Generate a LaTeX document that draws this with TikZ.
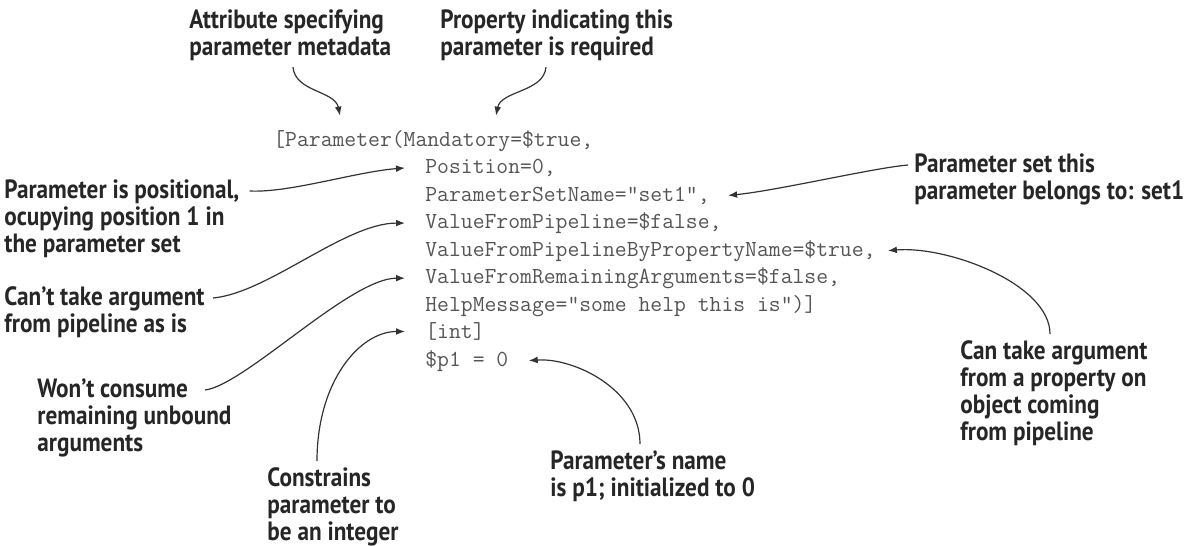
\documentclass[tikz,border=0pt]{standalone}
\usepackage{fontspec}
\newfontfamily\notefont[FakeStretch=0.88]{PT Sans}
\usetikzlibrary{arrows.meta}
\definecolor{notegray}{HTML}{262626}
\definecolor{codegray}{HTML}{555555}
\definecolor{linegray}{HTML}{333333}

\begin{document}
\begin{tikzpicture}[
    x=0.5pt, y=-0.5pt,
    note/.style={
        anchor=north west,
        align=left,
        inner sep=0pt,
        text=notegray,
        font=\notefont\bfseries\fontsize{13.2}{13.6}\selectfont
    },
    code/.style={
        anchor=base west,
        inner sep=3pt,
        text=codegray,
        font=\ttfamily\fontsize{11.5}{13.75}\selectfont
    },
    callout/.style={draw=linegray, line width=0.6pt, -{Latex[length=4.5pt, width=3.4pt]}}
]
\useasboundingbox (0,0) rectangle (1195,546);

% Code listing
\node[code] (mandline) at (267,146) {[Parameter(Mandatory=\$true,};
\node[code] (posline) at (419,173.5) {Position=0,};
\node[code] (setline) at (419,201) {ParameterSetName="set1",};
\node[code] (pipeflag) at (419,228.5) {ValueFromPipeline=\$false,};
\node[code] (bynameline) at (419,256) {ValueFromPipelineByPropertyName=\$true,};
\node[code] (remainline) at (419,283.5) {ValueFromRemainingArguments=\$false,};
\node[code] (helpline) at (419,311) {HelpMessage="some help this is")]};
\node[code] (intline) at (419,338.5) {[int]};
\node[code] (varline) at (419,366) {\$p1 = 0};

% Annotations
\node[note] (attrlbl) at (189,9) {Attribute specifying\\parameter metadata};
\node[note] (reqlbl) at (440,9) {Property indicating this\\parameter is required};
\node[note] (setlbl) at (914,153) {Parameter set this\\parameter belongs to: set1};
\node[note] (poslbl) at (4,179) {Parameter is positional,\\ocupying position 1 in\\the parameter set};
\node[note] (pipelbl) at (4,286) {Can’t take argument\\from pipeline as is};
\node[note] (bynamelbl) at (960,340) {Can take argument\\from a property on\\object coming\\from pipeline};
\node[note] (remainlbl) at (37,378) {Won’t consume\\remaining unbound\\arguments};
\node[note] (namelbl) at (550,450) {Parameter’s name\\is p1; initialized to 0};
\node[note] (intlbl) at (267,467) {Constrains\\parameter to\\be an integer};

% Callouts
\draw[callout] ([xshift=52pt,yshift=-3pt]attrlbl.south west) .. controls +(2,25) and +(-5,-25) .. ([xshift=36.5pt,yshift=4pt]mandline.north west);
\draw[callout] ([xshift=53pt,yshift=-3pt]reqlbl.south west) .. controls +(-2,25) and +(5,-25) .. ([xshift=114.5pt,yshift=4pt]mandline.north west);
\draw[callout] ([xshift=5pt,yshift=-6pt]poslbl.north east) .. controls +(40,2) and +(-50,4) .. ([xshift=-7pt]posline.west);
\draw[callout] ([xshift=4pt,yshift=-6pt]pipelbl.north east) .. controls +(55,-5) and +(-60,0) .. ([xshift=-7pt]pipeflag.west);
\draw[callout] ([xshift=84pt,yshift=-6pt]remainlbl.north west) .. controls +(40,-5) and +(-55,0) .. ([xshift=-7pt]remainline.west);
\draw[callout] ([xshift=25pt,yshift=3pt]intlbl.north west) .. controls +(0,-80) and +(-45,0) .. ([xshift=-7pt]intline.west);
\draw[callout] ([xshift=45pt,yshift=3pt]namelbl.north west) .. controls +(0,-55) and +(45,-3) .. ([xshift=7pt]varline.east);
\draw[callout] ([xshift=-3pt,yshift=-6pt]setlbl.north west) .. controls +(-35,3) and +(50,-5) .. ([xshift=6pt]setline.east);
\draw[callout] ([xshift=45pt,yshift=3pt]bynamelbl.north west) .. controls +(0,-50) and +(60,-5) .. ([xshift=3pt]bynameline.east);

\end{tikzpicture}
\end{document}
